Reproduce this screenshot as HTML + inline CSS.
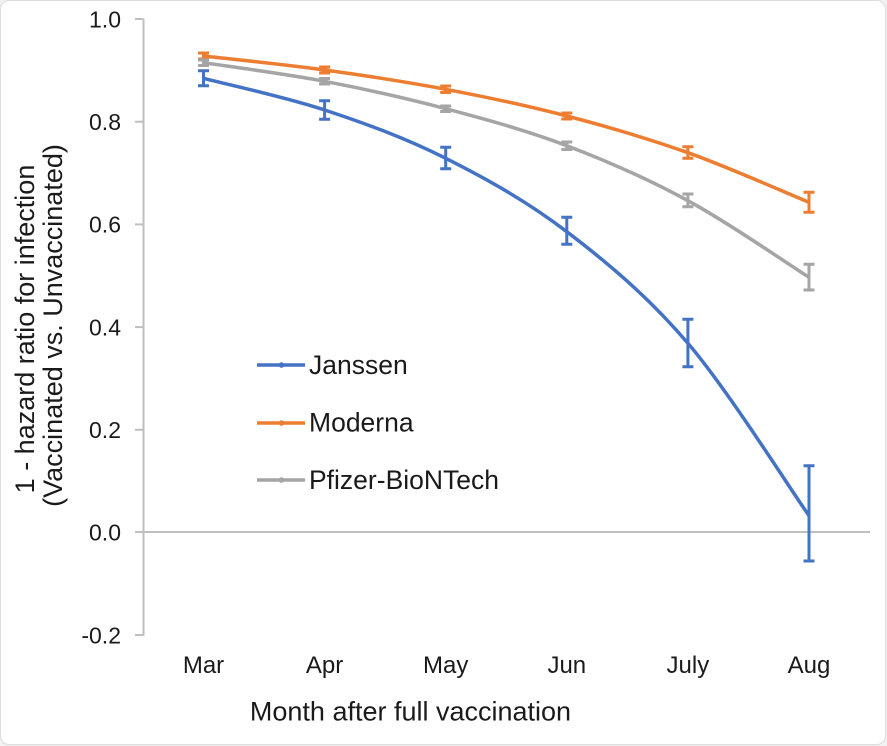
<!DOCTYPE html>
<html>
<head>
<meta charset="utf-8">
<style>
html,body{margin:0;padding:0;background:#f2f2f2;}
.wrap{position:relative;width:887px;height:746px;overflow:hidden;background:#f2f2f2;}
.frame{position:absolute;left:0;top:0;width:884px;height:743px;background:#fff;border:1px solid #dcdcdc;border-radius:9px;}
svg{position:absolute;left:0;top:0;}
text{font-family:"Liberation Sans",Arial,sans-serif;fill:#1a1a1a;}
</style>
</head>
<body>
<div class="wrap">
<div class="frame"></div>
<svg width="887" height="746" viewBox="0 0 887 746" xmlns="http://www.w3.org/2000/svg">
  <!-- axes -->
  <g stroke="#bfbfbf" stroke-width="2" fill="none">
    <line x1="143.5" y1="19" x2="143.5" y2="635.5"/>
    <line x1="135" y1="19" x2="143.5" y2="19"/>
    <line x1="135" y1="121.7" x2="143.5" y2="121.7"/>
    <line x1="135" y1="224.4" x2="143.5" y2="224.4"/>
    <line x1="135" y1="327.1" x2="143.5" y2="327.1"/>
    <line x1="135" y1="429.8" x2="143.5" y2="429.8"/>
    <line x1="135" y1="635" x2="143.5" y2="635"/>
    <line x1="135" y1="532" x2="870" y2="532"/>
  </g>
  <!-- y tick labels -->
  <g font-size="23" text-anchor="end">
    <text x="121" y="27.5">1.0</text>
    <text x="121" y="130">0.8</text>
    <text x="121" y="232.5">0.6</text>
    <text x="121" y="335.5">0.4</text>
    <text x="121" y="438">0.2</text>
    <text x="121" y="540.5">0.0</text>
    <text x="121" y="643.5">-0.2</text>
  </g>
  <!-- x tick labels -->
  <g font-size="24" text-anchor="middle">
    <text x="203.5" y="673">Mar</text>
    <text x="324.6" y="673">Apr</text>
    <text x="445.7" y="673">May</text>
    <text x="566.8" y="673">Jun</text>
    <text x="687.9" y="673">July</text>
    <text x="809" y="673">Aug</text>
  </g>
  <!-- axis titles -->
  <text x="410.5" y="720.5" font-size="27" text-anchor="middle">Month after full vaccination</text>
  <text transform="translate(34,329) rotate(-90)" font-size="27" text-anchor="middle">1 - hazard ratio for infection</text>
  <text transform="translate(62,325.5) rotate(-90)" font-size="27" text-anchor="middle">(Vaccinated vs. Unvaccinated)</text>

  <!-- Janssen -->
  <g stroke="#4472c4" fill="none">
    <path stroke-width="3.5" d="M203.5,78.3 C223.7,83.6 284.2,96.7 324.6,110 C365.0,123.3 405.3,138.0 445.7,158.3 C486.1,178.6 526.4,200.9 566.8,231.7 C607.2,262.5 647.5,296.0 687.9,343.3 C728.3,390.6 788.8,487.0 809,515.7"/>
    <g stroke-width="3">
      <path d="M203.5,70.7V85.7M198,70.7h11M198,85.7h11"/>
      <path d="M324.6,100.7V119.3M319.1,100.7h11M319.1,119.3h11"/>
      <path d="M445.7,147.3V168.7M440.2,147.3h11M440.2,168.7h11"/>
      <path d="M566.8,217.3V244.3M561.3,217.3h11M561.3,244.3h11"/>
      <path d="M687.9,319.3V366.7M682.4,319.3h11M682.4,366.7h11"/>
      <path d="M809,465.7V561M803.5,465.7h11M803.5,561h11"/>
    </g>
  </g>
  <!-- Moderna -->
  <g stroke="#ed7d31" fill="none">
    <path stroke-width="3.5" d="M203.5,56 C223.7,58.3 284.2,64.45 324.6,70 C365.0,75.55 405.3,81.63 445.7,89.3 C486.1,96.97 526.4,105.43 566.8,116 C607.2,126.57 647.5,138.32 687.9,152.7 C728.3,167.08 788.8,194.03 809,202.3"/>
    <g stroke-width="3">
      <path d="M203.5,53V59M198,53h11M198,59h11"/>
      <path d="M324.6,67V73M319.1,67h11M319.1,73h11"/>
      <path d="M445.7,86V92.5M440.2,86h11M440.2,92.5h11"/>
      <path d="M566.8,113V119M561.3,113h11M561.3,119h11"/>
      <path d="M687.9,146.7V158.3M682.4,146.7h11M682.4,158.3h11"/>
      <path d="M809,192.3V212.3M803.5,192.3h11M803.5,212.3h11"/>
    </g>
  </g>
  <!-- Pfizer -->
  <g stroke="#a5a5a5" fill="none">
    <path stroke-width="3.5" d="M203.5,62.7 C223.7,65.8 284.2,73.63 324.6,81.3 C365.0,88.97 405.3,97.97 445.7,108.7 C486.1,119.43 526.4,130.37 566.8,145.7 C607.2,161.03 647.5,178.77 687.9,200.7 C728.3,222.63 788.8,264.53 809,277.3"/>
    <g stroke-width="3">
      <path d="M203.5,60V65.5M198,60h11M198,65.5h11"/>
      <path d="M324.6,78.5V84M319.1,78.5h11M319.1,84h11"/>
      <path d="M445.7,106V111.5M440.2,106h11M440.2,111.5h11"/>
      <path d="M566.8,142V149.5M561.3,142h11M561.3,149.5h11"/>
      <path d="M687.9,194V206.7M682.4,194h11M682.4,206.7h11"/>
      <path d="M809,264.3V290M803.5,264.3h11M803.5,290h11"/>
    </g>
  </g>

  <!-- legend -->
  <g stroke-width="3.5">
    <line x1="257" y1="365" x2="305" y2="365" stroke="#4472c4"/>
    <line x1="257" y1="423" x2="305" y2="423" stroke="#ed7d31"/>
    <line x1="257" y1="480" x2="305" y2="480" stroke="#a5a5a5"/>
  </g>
  <circle cx="281.5" cy="365" r="2.8" fill="#4472c4"/>
  <circle cx="281.5" cy="423" r="2.8" fill="#ed7d31"/>
  <circle cx="281.5" cy="480" r="2.8" fill="#a5a5a5"/>
  <g font-size="26.5">
    <text x="309" y="374">Janssen</text>
    <text x="309" y="431.5">Moderna</text>
    <text x="309" y="489">Pfizer-BioNTech</text>
  </g>
</svg>
</div>
</body>
</html>
